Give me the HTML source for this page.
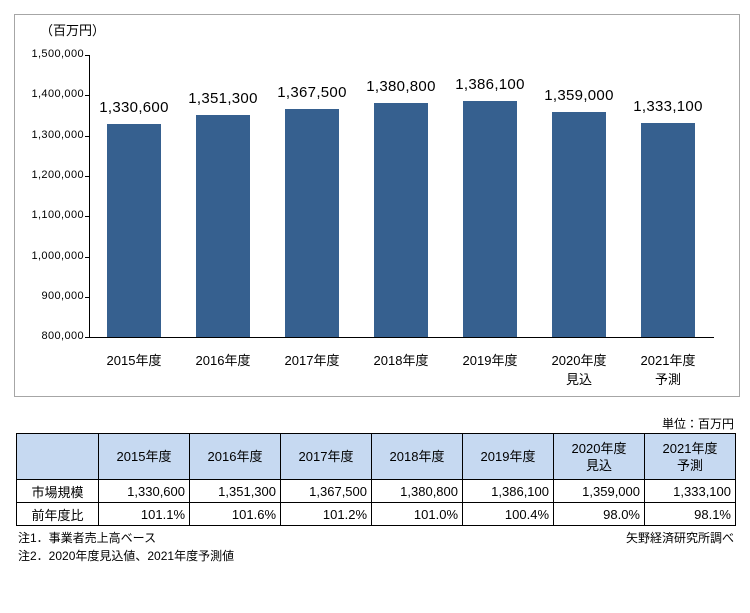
<!DOCTYPE html><html><head><meta charset="utf-8"><style>
body{margin:0;width:750px;height:613px;background:#fff;font-family:"Liberation Sans","Noto Sans CJK JP",sans-serif;color:#000;position:relative;overflow:hidden}
.a{position:absolute;white-space:nowrap}
.tk{font-size:11px;right:666px;text-align:right;letter-spacing:0.4px}
.bar{position:absolute;background:#36608f;width:54px}
.vl{position:absolute;font-size:15px;width:100px;text-align:center;letter-spacing:0.3px}
.xl{position:absolute;font-size:13px;width:90px;text-align:center;line-height:19px}
table{position:absolute;left:16px;top:433px;border-collapse:collapse;font-size:13px}
td{border:1px solid #000;height:22px;padding:0 4px;text-align:right;width:82px}
td:first-child{text-align:center;width:73px}
tr.h td{background:#c6d9f1;height:45px;text-align:center;line-height:17px}
tr.r2 td{border-top:1px dashed #000}
</style></head><body>
<div class="a" style="left:14px;top:14px;width:724px;height:381px;border:1px solid #a6a6a6"></div>
<div class="a" style="left:40px;top:20px;font-size:13px">（百万円）</div>
<div class="a" style="left:89px;top:55px;width:1px;height:283px;background:#000"></div>
<div class="a tk" style="top:48px">1,500,000</div><div class="a" style="left:85px;top:55px;width:5px;height:1px;background:#000"></div>
<div class="a tk" style="top:88px">1,400,000</div><div class="a" style="left:85px;top:95px;width:5px;height:1px;background:#000"></div>
<div class="a tk" style="top:129px">1,300,000</div><div class="a" style="left:85px;top:136px;width:5px;height:1px;background:#000"></div>
<div class="a tk" style="top:169px">1,200,000</div><div class="a" style="left:85px;top:176px;width:5px;height:1px;background:#000"></div>
<div class="a tk" style="top:209px">1,100,000</div><div class="a" style="left:85px;top:216px;width:5px;height:1px;background:#000"></div>
<div class="a tk" style="top:250px">1,000,000</div><div class="a" style="left:85px;top:257px;width:5px;height:1px;background:#000"></div>
<div class="a tk" style="top:290px">900,000</div><div class="a" style="left:85px;top:297px;width:5px;height:1px;background:#000"></div>
<div class="a tk" style="top:330px">800,000</div><div class="a" style="left:85px;top:337px;width:5px;height:1px;background:#000"></div>
<div class="a" style="left:89px;top:337px;width:625px;height:1px;background:#000"></div>

<div class="bar" style="left:107px;top:124px;height:213px"></div>
<div class="bar" style="left:196px;top:115px;height:222px"></div>
<div class="bar" style="left:285px;top:109px;height:228px"></div>
<div class="bar" style="left:374px;top:103px;height:234px"></div>
<div class="bar" style="left:463px;top:101px;height:236px"></div>
<div class="bar" style="left:552px;top:112px;height:225px"></div>
<div class="bar" style="left:641px;top:123px;height:214px"></div>

<div class="vl" style="left:84px;top:99px">1,330,600</div>
<div class="vl" style="left:173px;top:90px">1,351,300</div>
<div class="vl" style="left:262px;top:84px">1,367,500</div>
<div class="vl" style="left:351px;top:78px">1,380,800</div>
<div class="vl" style="left:440px;top:76px">1,386,100</div>
<div class="vl" style="left:529px;top:87px">1,359,000</div>
<div class="vl" style="left:618px;top:98px">1,333,100</div>

<div class="xl" style="left:89px;top:351px">2015年度</div>
<div class="xl" style="left:178px;top:351px">2016年度</div>
<div class="xl" style="left:267px;top:351px">2017年度</div>
<div class="xl" style="left:356px;top:351px">2018年度</div>
<div class="xl" style="left:445px;top:351px">2019年度</div>
<div class="xl" style="left:534px;top:351px">2020年度<br>見込</div>
<div class="xl" style="left:623px;top:351px">2021年度<br>予測</div>

<div class="a" style="right:16px;top:415px;font-size:12px">単位：百万円</div>
<table>
<tr class="h"><td></td><td>2015年度</td><td>2016年度</td><td>2017年度</td><td>2018年度</td><td>2019年度</td><td>2020年度<br>見込</td><td>2021年度<br>予測</td></tr>
<tr><td>市場規模</td><td>1,330,600</td><td>1,351,300</td><td>1,367,500</td><td>1,380,800</td><td>1,386,100</td><td>1,359,000</td><td>1,333,100</td></tr>
<tr class="r2"><td>前年度比</td><td>101.1%</td><td>101.6%</td><td>101.2%</td><td>101.0%</td><td>100.4%</td><td>98.0%</td><td>98.1%</td></tr>
</table>
<div class="a" style="left:18px;top:529px;font-size:12px">注1．事業者売上高ベース</div>
<div class="a" style="left:18px;top:547px;font-size:12px">注2．2020年度見込値、2021年度予測値</div>
<div class="a" style="right:16px;top:529px;font-size:12px">矢野経済研究所調べ</div>
</body></html>
